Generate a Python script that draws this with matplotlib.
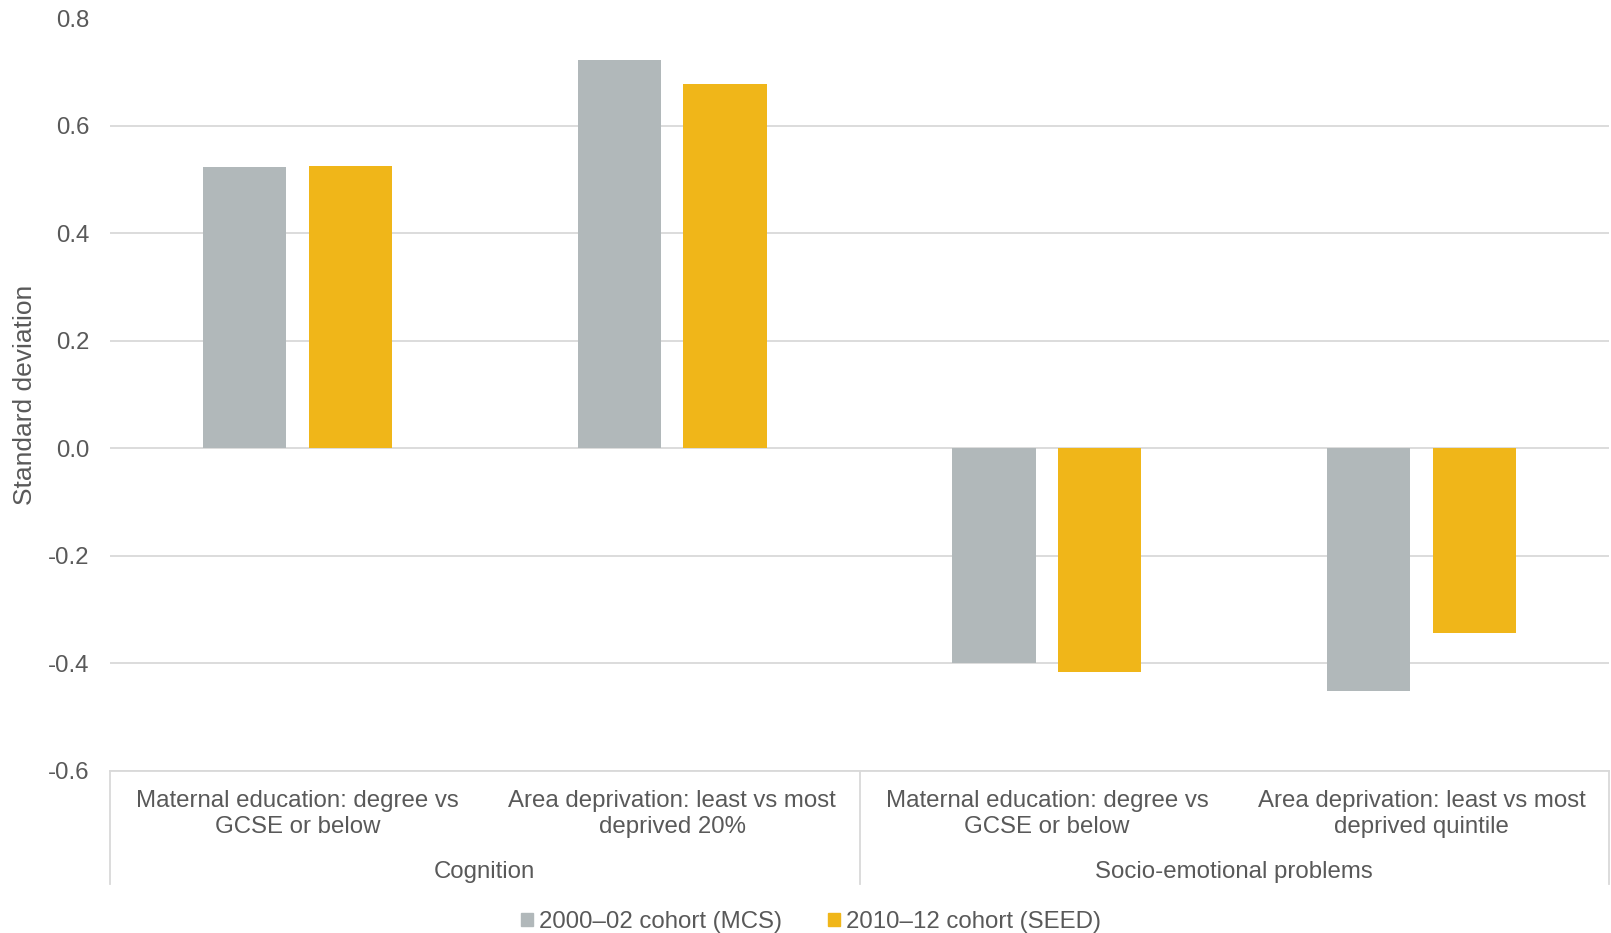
import matplotlib
matplotlib.use("Agg")
from matplotlib import pyplot as plt
from matplotlib.patches import Patch

# data
categories = [
	"Maternal education: degree vs\nGCSE or below",
	"Area deprivation: least vs most\ndeprived 20%",
	"Maternal education: degree vs\nGCSE or below",
	"Area deprivation: least vs most\ndeprived quintile",
]
groups = ["Cognition", "Socio-emotional problems"]
group_spans = [(0, 1), (2, 3)]
mcs = [0.524, 0.722, -0.400, -0.452]
seed = [0.526, 0.679, -0.417, -0.343]
series_names = ["2000\u201302 cohort (MCS)", "2010\u201312 cohort (SEED)"]
yticks = [-0.6, -0.4, -0.2, 0.0, 0.2, 0.4, 0.6, 0.8]

GREY = "#B1B8BA"
GOLD = "#F0B619"
TEXT = "#595959"
GRID = "#D9D9D9"

plt.rcParams["font.family"] = ["Liberation Sans", "DejaVu Sans"]
plt.rcParams["font.size"] = 17.3

W, H = 1611, 933
fig = plt.figure(figsize=(W / 100, H / 100), dpi=100)
left, right, top, bottom = 110, 1609, 18.5, 770.6
ax = fig.add_axes([left / W, 1 - bottom / H, (right - left) / W, (bottom - top) / H])

x = list(range(len(categories)))
bw = 0.222
off = 0.141
ax.bar([i - off for i in x], mcs, width=bw, color=GREY, zorder=3)
ax.bar([i + off for i in x], seed, width=bw, color=GOLD, zorder=3)

ax.set_xlim(-0.5, len(categories) - 0.5)
ax.set_ylim(-0.6, 0.8)
ax.set_yticks(yticks)
ax.set_yticklabels(["%.1f" % v for v in yticks], color=TEXT)
ax.tick_params(axis="y", length=0, pad=15)
ax.set_xticks([])
ax.grid(axis="y", color=GRID, linewidth=1.3, zorder=0)
for s in ["top", "right", "left"]:
	ax.spines[s].set_visible(False)
ax.spines["bottom"].set_color(GRID)
ax.spines["bottom"].set_linewidth(1.3)

ax.set_ylabel("Standard deviation", color=TEXT, labelpad=8, fontsize=19)

tr = ax.get_xaxis_transform()
axh = bottom - top
# category labels
for i, lab in enumerate(categories):
	ax.annotate(lab, xy=(i, 0), xycoords=tr, xytext=(0, -19), textcoords="offset pixels",
		ha="center", va="top", color=TEXT, linespacing=1.25)
# group labels
for g, (a, b) in zip(groups, group_spans):
	ax.annotate(g, xy=((a + b) / 2, 0), xycoords=tr, xytext=(0, -101), textcoords="offset pixels",
		ha="center", va="center", color=TEXT)
# separators of the multi-level axis
depth = (884 - bottom) / axh
for xs in [-0.5, 1.5, 3.5]:
	ax.plot([xs, xs], [0, -depth], transform=tr, color=GRID, linewidth=1.3, clip_on=False)

handles = [Patch(color=GREY), Patch(color=GOLD)]
leg = fig.legend(handles, series_names, loc="center", bbox_to_anchor=(811 / W, 1 - 922 / H),
	ncol=2, frameon=False, handlelength=0.5, handleheight=0.5, handletextpad=0.25,
	columnspacing=1.9, borderaxespad=0)
for t in leg.get_texts():
	t.set_color(TEXT)

fig.savefig("out.png", dpi=100)
